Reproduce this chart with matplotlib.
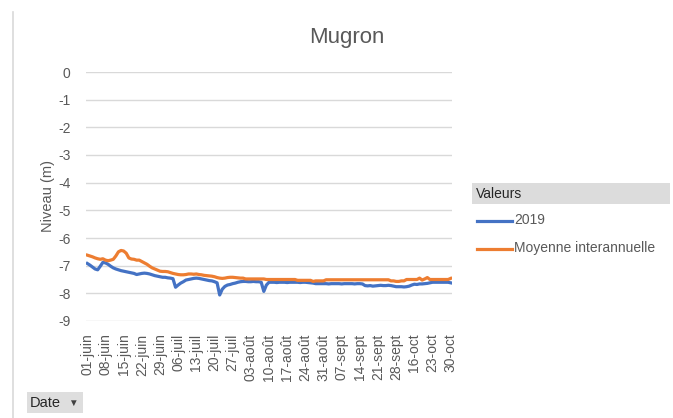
import matplotlib
matplotlib.use('Agg')
import matplotlib.pyplot as plt
import matplotlib.patches as mpatches
import pandas as pd

plt.rcParams['font.family'] = ['Liberation Sans', 'DejaVu Sans']
plt.rcParams['axes.unicode_minus'] = False

W, H = 673, 418

# categories: pivot table dates (gap in early October)
dates = list(pd.date_range('2019-06-01', '2019-10-04')) + list(pd.date_range('2019-10-16', '2019-10-30'))
mois = {6: 'juin', 7: 'juil', 8: 'août', 9: 'sept', 10: 'oct'}
labels = [f"{d.day:02d}-{mois[d.month]}" for d in dates]

niveau_2019 = [
    -6.92, -6.98, -7.05, -7.12, -7.15, -7.02, -6.88, -6.90, -6.95, -7.02,
    -7.08, -7.12, -7.15, -7.18, -7.20, -7.22, -7.24, -7.26, -7.28, -7.32,
    -7.30, -7.28, -7.27, -7.28, -7.30, -7.33, -7.36, -7.38, -7.40, -7.42,
    -7.42, -7.44, -7.45, -7.47, -7.78, -7.70, -7.63, -7.58, -7.52, -7.50,
    -7.48, -7.46, -7.45, -7.46, -7.48, -7.50, -7.52, -7.54, -7.55, -7.58,
    -7.62, -8.06, -7.85, -7.75, -7.70, -7.68, -7.65, -7.63, -7.60, -7.58,
    -7.57, -7.57, -7.58, -7.58, -7.57, -7.58, -7.58, -7.60, -7.93, -7.70,
    -7.60, -7.60, -7.60, -7.61, -7.60, -7.60, -7.60, -7.61, -7.60, -7.60,
    -7.60, -7.60, -7.61, -7.60, -7.60, -7.61, -7.62, -7.63, -7.65, -7.65,
    -7.65, -7.65, -7.65, -7.66, -7.65, -7.65, -7.65, -7.65, -7.66, -7.65,
    -7.65, -7.65, -7.65, -7.66, -7.65, -7.65, -7.66, -7.72, -7.73, -7.72,
    -7.74, -7.73, -7.72, -7.71, -7.72, -7.72, -7.71, -7.72, -7.74, -7.76,
    -7.76, -7.76, -7.77, -7.76, -7.74, -7.70, -7.67, -7.68, -7.66, -7.66,
    -7.65, -7.64, -7.62, -7.60, -7.60, -7.60, -7.60, -7.60, -7.60, -7.60,
    -7.62,
]

moyenne = [
    -6.62, -6.65, -6.68, -6.72, -6.75, -6.77, -6.75, -6.80, -6.82, -6.80,
    -6.77, -6.65, -6.50, -6.45, -6.47, -6.55, -6.72, -6.76, -6.77, -6.80,
    -6.80, -6.85, -6.90, -6.95, -7.02, -7.08, -7.12, -7.16, -7.20, -7.21,
    -7.21, -7.22, -7.25, -7.28, -7.30, -7.32, -7.33, -7.33, -7.32, -7.30,
    -7.30, -7.31, -7.30, -7.32, -7.33, -7.35, -7.36, -7.37, -7.38, -7.40,
    -7.43, -7.45, -7.46, -7.45, -7.43, -7.42, -7.42, -7.43, -7.44, -7.45,
    -7.45, -7.48, -7.48, -7.48, -7.48, -7.48, -7.48, -7.48, -7.48, -7.50,
    -7.50, -7.50, -7.50, -7.50, -7.50, -7.50, -7.50, -7.50, -7.50, -7.50,
    -7.50, -7.53, -7.53, -7.53, -7.53, -7.53, -7.53, -7.57, -7.55, -7.55,
    -7.55, -7.55, -7.51, -7.51, -7.51, -7.51, -7.51, -7.51, -7.51, -7.51,
    -7.51, -7.51, -7.51, -7.51, -7.51, -7.51, -7.51, -7.51, -7.51, -7.51,
    -7.51, -7.51, -7.51, -7.51, -7.51, -7.51, -7.51, -7.55, -7.55, -7.57,
    -7.57, -7.55, -7.55, -7.50, -7.50, -7.50, -7.50, -7.50, -7.45, -7.52,
    -7.48, -7.43, -7.50, -7.50, -7.50, -7.50, -7.50, -7.50, -7.50, -7.50,
    -7.46,
]

BLUE = '#4472C4'
ORANGE = '#ED7D31'
GREY = '#595959'


def fx(px):
    return px / W


def fy(py):
    return 1 - py / H


fig = plt.figure(figsize=(W / 100, H / 100), dpi=100)
ax = fig.add_axes([fx(86), fy(321), fx(452) - fx(86), fy(72) - fy(321)])

x = list(range(len(dates)))
ax.plot(x, niveau_2019, color=BLUE, lw=2.3, solid_joinstyle='round')
ax.plot(x, moyenne, color=ORANGE, lw=2.3, solid_joinstyle='round')

ax.set_ylim(-9, 0)
ax.set_yticks(range(-9, 1))
ax.set_xlim(-0.5, len(dates) - 0.5)
ax.set_xticks(x[::7])
ax.set_xticklabels(labels[::7], rotation=90)
ax.grid(axis='y', color='#D9D9D9', lw=1)
ax.set_axisbelow(True)
for s in ax.spines.values():
    s.set_visible(False)
ax.tick_params(length=0, colors=GREY, labelsize=10)
ax.tick_params(axis='y', pad=11)
ax.tick_params(axis='x', pad=9)
ax.set_ylabel('Niveau (m)', color=GREY, fontsize=10.5, labelpad=2)

fig.text(fx(347), fy(38), 'Mugron', ha='center', va='center', fontsize=16, color=GREY)

# chart area left border
fig.add_artist(plt.Line2D([fx(13), fx(13)], [fy(12), fy(418)], color='#D9D9D9', lw=1.2))

# legend (pivot chart style)
fig.add_artist(mpatches.Rectangle((fx(472), fy(204)), fx(670) - fx(472), fy(183) - fy(204),
                                  facecolor='#DCDCDC', edgecolor='none'))
fig.text(fx(476), fy(194), 'Valeurs', ha='left', va='center', fontsize=10, color='#262626')
fig.add_artist(plt.Line2D([fx(477), fx(512)], [fy(221), fy(221)], color=BLUE, lw=2.3))
fig.text(fx(514), fy(220), '2019', ha='left', va='center', fontsize=10, color=GREY)
fig.add_artist(plt.Line2D([fx(477), fx(512)], [fy(249), fy(249)], color=ORANGE, lw=2.3))
fig.text(fx(514), fy(248), 'Moyenne interannuelle', ha='left', va='center', fontsize=10, color=GREY)

# field button
fig.add_artist(mpatches.Rectangle((fx(27), fy(413)), fx(83) - fx(27), fy(392) - fy(413),
                                  facecolor='#DEDEDE', edgecolor='none'))
fig.text(fx(30), fy(403), 'Date', ha='left', va='center', fontsize=10.5, color='#262626')
fig.text(fx(73), fy(403), '▼', ha='center', va='center', fontsize=7, color='#404040')

fig.savefig('out.png', dpi=100)
